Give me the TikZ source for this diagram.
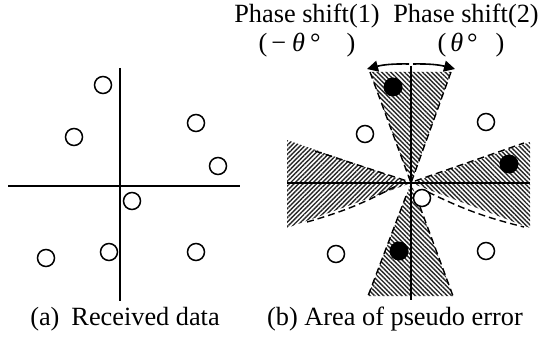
\documentclass[tikz,border=0pt]{standalone}
\usepackage{fontspec}
\setmainfont{Liberation Serif}
\usetikzlibrary{patterns.meta,arrows.meta}
\begin{document}
\begin{tikzpicture}[x=0.5pt,y=-0.5pt,
  opencirc/.style={circle,draw,line width=0.75pt,fill=white,minimum size=8.5pt,inner sep=0pt},
  fullcirc/.style={circle,fill=black,minimum size=9.5pt,inner sep=0pt},
  axisL/.style={line width=1pt},
  axisR/.style={line width=0.6pt},
  hatchA/.style={pattern={Lines[angle=-45,distance=1.6pt,line width=0.7pt]},pattern color=black!85},
  hatchB/.style={pattern={Lines[angle=45,distance=1.6pt,line width=0.7pt]},pattern color=black!85},
  wedgeedge/.style={dash pattern=on 3.5pt off 2pt, line width=0.7pt},
  shiftarrow/.style={line width=0.8pt,-{Triangle[length=5.5pt,width=5.5pt]}},
  lbl/.style={font=\fontsize{13.15}{15}\selectfont, anchor=base, inner sep=0pt}]
\useasboundingbox (0,0) rectangle (545,342);
% ---------- left panel ----------
\coordinate (lxa) at (8,186);
\coordinate (lxb) at (240,186);
\coordinate (lya) at (120,68);
\coordinate (lyb) at (120,301);
\draw[axisL] (lxa) -- (lxb);
\draw[axisL] (lya) -- (lyb);
\node[opencirc] (a1) at (103,85) {};
\node[opencirc] (a2) at (74,137) {};
\node[opencirc] (a3) at (196,123) {};
\node[opencirc] (a4) at (218,166) {};
\node[opencirc] (a5) at (132,201) {};
\node[opencirc] (a6) at (46,258) {};
\node[opencirc] (a7) at (109,252) {};
\node[opencirc] (a8) at (196,252) {};
% ---------- right panel ----------
\coordinate (c) at (411,183);
\coordinate (tl) at (370,72);
\coordinate (tr) at (451,72);
\coordinate (bl) at (368,296);
\coordinate (br) at (453,296);
\coordinate (lt) at (287,140);
\coordinate (lb) at (287,228);
\coordinate (rt) at (530,142);
\coordinate (rb) at (530,228);
\fill[hatchA] (c) -- (tl) -- (tr) -- cycle;
\fill[hatchA] (c) -- (bl) -- (br) -- cycle;
\fill[hatchB] (c) -- (lt) -- (lb) -- cycle;
\fill[hatchA] (c) -- (rt) -- (rb) -- cycle;
% dashed edges
\coordinate (d1) at (315,151);
\coordinate (d2) at (407,181);
\coordinate (d3) at (307,222);
\coordinate (d4) at (396,186);
\coordinate (d5) at (415,181);
\coordinate (d6) at (524,143);
\coordinate (d7) at (428,192);
\coordinate (d8) at (524,227);
\coordinate (d9) at (406,196);
\coordinate (d10) at (416,196);
\draw[wedgeedge] (tl) -- (c);
\draw[wedgeedge] (tr) -- (c);
\draw[wedgeedge] (d9) -- (bl);
\draw[wedgeedge] (d10) -- (br);
\draw[wedgeedge] (d1) -- (d2);
\draw[wedgeedge] (d3) to[bend right=6] (d4);
\draw[wedgeedge] (d5) -- (d6);
\draw[wedgeedge] (d7) to[bend right=6] (d8);
% axes
\coordinate (rxa) at (287,183);
\coordinate (rxb) at (530,183);
\coordinate (rya) at (411,66);
\coordinate (ryb) at (411,300);
\draw[axisR] (rxa) -- (rxb);
\draw[axisR] (rya) -- (ryb);
% points
\node[fullcirc] (b1) at (393,87) {};
\node[opencirc] (b2) at (365,134) {};
\node[opencirc] (b3) at (486,122) {};
\node[fullcirc] (b4) at (509,164) {};
\node[opencirc] (b5) at (422,198) {};
\node[opencirc] (b6) at (336,254) {};
\node[fullcirc] (b7) at (399,251) {};
\node[opencirc] (b8) at (486,251) {};
% phase shift arrows
\coordinate (am1) at (409,64);
\coordinate (am2) at (413,64);
\coordinate (aL) at (367,69);
\coordinate (aR) at (455,69);
\draw[shiftarrow] (am1) to[bend right=8] (aL);
\draw[shiftarrow] (am2) to[bend left=8] (aR);
% labels
\node[lbl] (ps1) at (307,23) {Phase shift(1)};
\node[lbl] (ps2) at (466,23) {Phase shift(2)};
\node[lbl] (th1) at (307,52) {(\hspace{2pt}−\hspace{3pt}\textit{θ}\hspace{2.5pt}°\hspace{13pt})};
\node[lbl] (th2) at (471,52) {(\hspace{2pt}\textit{θ}\hspace{2pt}°\hspace{9pt})};
\node[lbl] (capa) at (125,325) {(a)\hspace{6pt}Received data};
\node[lbl] (capb) at (395,325) {(b) Area of pseudo error};
\end{tikzpicture}
\end{document}
